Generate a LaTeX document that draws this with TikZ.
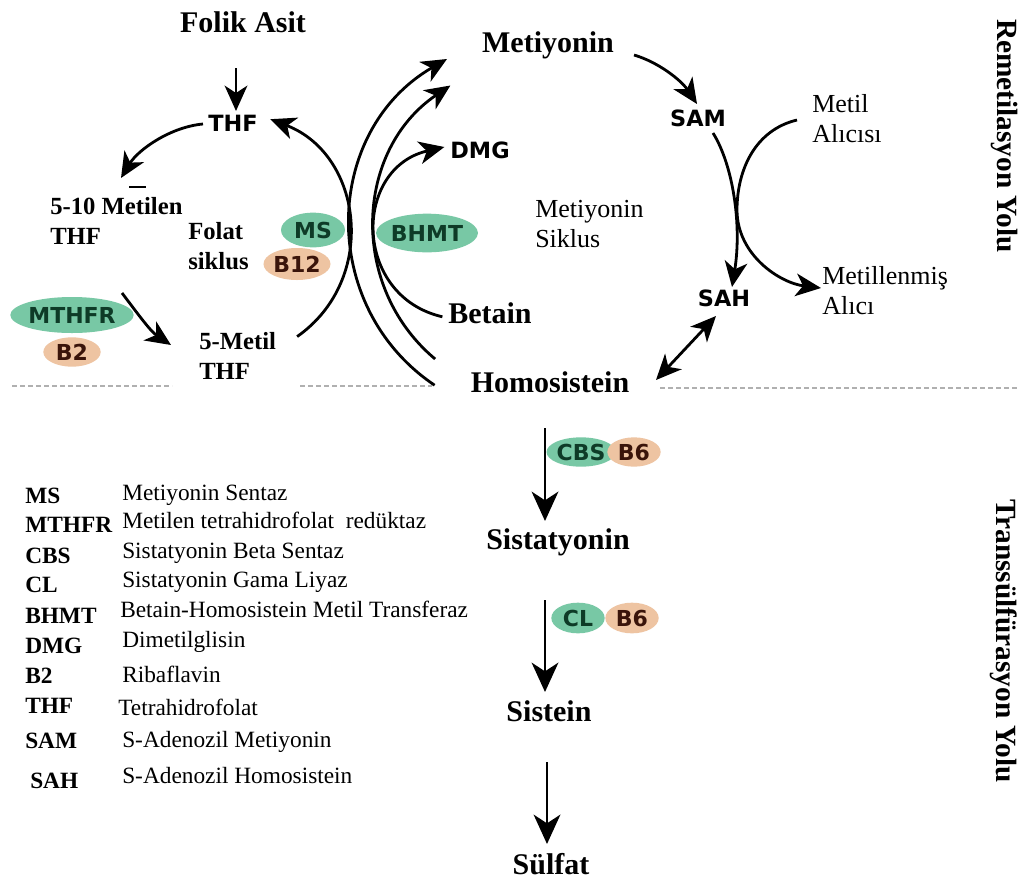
\documentclass[tikz,border=0pt]{standalone}
\usepackage{fontspec}
\setmainfont{Liberation Serif}
\newfontfamily\sansbold{DejaVu Sans}
\usetikzlibrary{arrows.meta,shapes.geometric}
\definecolor{enzg}{HTML}{78C8A5}
\definecolor{enzgt}{HTML}{0E3B27}
\definecolor{vito}{HTML}{EEC4A2}
\definecolor{vitot}{HTML}{3A140A}
\definecolor{dashc}{HTML}{B0B0B0}
\begin{document}
\begin{tikzpicture}[x=0.75pt,y=-0.75pt,
  big/.style={font=\bfseries\fontsize{22.5}{24}\selectfont, inner sep=1pt},
  mid/.style={font=\bfseries\fontsize{18.5}{23}\selectfont, align=left, anchor=west, inner sep=0pt},
  reg/.style={font=\fontsize{19.5}{22.5}\selectfont, align=left, anchor=west, inner sep=0pt},
  sans/.style={font=\sansbold\bfseries\fontsize{16.8}{18}\selectfont, inner sep=1pt},
  enz/.style={ellipse, fill=enzg, text=enzgt, font=\sansbold\bfseries\fontsize{16.5}{18}\selectfont, inner sep=0pt},
  vit/.style={ellipse, fill=vito, text=vitot, font=\sansbold\bfseries\fontsize{16.5}{18}\selectfont, inner sep=0pt},
  abbr/.style={font=\bfseries\fontsize{17.5}{19}\selectfont, anchor=base west, inner sep=0pt},
  desc/.style={font=\fontsize{17.5}{19}\selectfont, anchor=base west, inner sep=0pt},
  side/.style={font=\bfseries\fontsize{22}{24}\selectfont, rotate=-90, inner sep=0pt},
  arr/.style={line width=2.1pt, -{Stealth[length=19pt,width=17pt,inset=5.5pt]}},
  sarr/.style={line width=2.1pt, -{Stealth[length=22pt,width=20pt,inset=6.5pt]}},
  darr/.style={line width=2.1pt, {Stealth[length=19pt,width=17pt,inset=5.5pt]}-{Stealth[length=19pt,width=17pt,inset=5.5pt]}},
  ln/.style={line width=2.1pt},
  sep/.style={dashc, line width=1.3pt, dash pattern=on 4pt off 2pt}
]
\fill[white] (0,0) rectangle (1023,882);
\useasboundingbox (0,0) rectangle (1023,882);

% separators
\draw[sep] (12,386) coordinate (s1a) -- (172,386) coordinate (s1b);
\draw[sep] (300,386) coordinate (s2a) -- (432,386) coordinate (s2b);
\draw[sep] (660,388) coordinate (s3a) -- (1018,388) coordinate (s3b);

% main labels
\node[big] (folik) at (243,22) {Folik Asit};
\node[big] (met) at (548,45) {Metiyonin};
\node[big] (betain) at (490,313) {Betain};
\node[big] (hcy) at (550,382) {Homosistein};
\node[big] (sist) at (558,542) {Sistatyonin};
\node[big] (cys) at (549,711) {Sistein};
\node[big] (sulf) at (551,864) {Sülfat};

\node[sans] (thf) at (233,123) {THF};
\node[sans] (sam) at (698,118) {SAM};
\node[sans] (dmg) at (480,150) {DMG};
\node[sans] (sah) at (724,298) {SAH};

\node[mid] (mthf) at (50,221) {5-10 Metilen\\THF};
\node[mid] (folat) at (188,246) {Folat\\siklus};
\node[mid] (mthf5) at (199,356) {5-Metil\\THF};
\node[reg] (metsik) at (535,224) {Metiyonin\\Siklus};
\node[reg] (alici) at (812,119) {Metil\\Alıcısı};
\node[reg] (metal) at (822,291) {Metillenmiş\\Alıcı};

\node[side] (remet) at (1004,136) {Remetilasyon Yolu};
\node[side] (trans) at (1004,641) {Transsülfürasyon Yolu};

% enzymes and vitamins
\node[vit, minimum width=46pt, minimum height=24pt] (b12) at (297,264) {B12};
\node[enz, minimum width=48pt, minimum height=26pt] (ms) at (313,230) {MS};
\node[enz, minimum width=71pt, minimum height=29pt] (bhmt) at (427,233) {BHMT};
\node[enz, minimum width=89pt, minimum height=27pt] (mthfr) at (72,315) {MTHFR};
\node[vit, minimum width=43pt, minimum height=22pt] (b2) at (72,352) {B2};
\node[enz, minimum width=47pt, minimum height=22pt] (cbs) at (581,452) {CBS};
\node[vit, minimum width=40pt, minimum height=22pt] (b6a) at (634,452) {B6};
\node[enz, minimum width=40pt, minimum height=23pt] (cl) at (578,618) {CL};
\node[vit, minimum width=40pt, minimum height=23pt] (b6b) at (632,618) {B6};

% connector end points
\coordinate (fa1) at (236,68);
\coordinate (fa2) at (236,111);
\coordinate (f5a) at (297.1,336.6);
\coordinate (f5b) at (270.4,119.2);
\coordinate (om1) at (434.6,385.2);
\coordinate (om2) at (447.0,59.0);
\coordinate (im1) at (435.1,359.0);
\coordinate (im2) at (450.4,85.5);
\coordinate (bd1) at (442.4,316.8);
\coordinate (bd2) at (444.4,147.0);
\coordinate (t1) at (203,124);
\coordinate (t2) at (121,178);
\coordinate (ms1) at (634,55);
\coordinate (ms2) at (697,104);
\coordinate (sh1) at (713,133);
\coordinate (sh2) at (732,287);
\coordinate (ma1) at (797,120);
\coordinate (ma2) at (821,288);
\coordinate (hs1) at (656,380);
\coordinate (hs2) at (716,316);
\coordinate (mt1) at (122,293);
\coordinate (mt2) at (171,345);
\coordinate (c1) at (545,428);
\coordinate (c2) at (545,521);
\coordinate (l1) at (545,600);
\coordinate (l2) at (545,692);
\coordinate (u1) at (547,762);
\coordinate (u2) at (547,844);

% connectors
\draw[arr] (fa1) -- (fa2);
\draw[arr] (f5a) .. controls (378.4,279.6) and (363.1,154.8) .. (f5b);
\draw[arr] (om1) .. controls (317.0,305.9) and (323.1,130.7) .. (om2);
\draw[arr] (im1) .. controls (348.0,285.9) and (355.1,149.8) .. (im2);
\draw[arr] (bd1) .. controls (352.5,296.0) and (352.5,168.0) .. (bd2);
\draw[arr] (t1) .. controls (170,127) and (138,150) .. (t2);
\draw[ln] (129,187) -- (146,187);
\draw[arr] (ms1) .. controls (658,62) and (681,80) .. (ms2);
\draw[arr] (sh1) .. controls (733,165) and (742,225) .. (sh2);
\draw[arr] (ma1) .. controls (755,130) and (737,170) .. (737,210) .. controls (737,255) and (780,283) .. (ma2);
\draw[darr] (hs1) -- (hs2);
\draw[arr] (mt1) .. controls (135,310) and (150,331) .. (mt2);
\draw[sarr] (c1) -- (c2);
\draw[sarr] (l1) -- (l2);
\draw[sarr] (u1) -- (u2);

% legend
\node[abbr] (a1) at (25,503) {MS};
\node[abbr] (a2) at (25,532) {MTHFR};
\node[abbr] (a3) at (25,563) {CBS};
\node[abbr] (a4) at (25,592) {CL};
\node[abbr] (a5) at (25,623) {BHMT};
\node[abbr] (a6) at (25,653) {DMG};
\node[abbr] (a7) at (25,683) {B2};
\node[abbr] (a8) at (25,713) {THF};
\node[abbr] (a9) at (25,748) {SAM};
\node[abbr] (a10) at (30,788) {SAH};
\node[desc] (d1) at (122,500) {Metiyonin Sentaz};
\node[desc] (d2) at (122,528) {Metilen tetrahidrofolat\ \ redüktaz};
\node[desc] (d3) at (122,558) {Sistatyonin Beta Sentaz};
\node[desc] (d4) at (122,587) {Sistatyonin Gama Liyaz};
\node[desc] (d5) at (120,617) {Betain-Homosistein Metil Transferaz};
\node[desc] (d6) at (122,647) {Dimetilglisin};
\node[desc] (d7) at (122,682) {Ribaflavin};
\node[desc] (d8) at (118,715) {Tetrahidrofolat};
\node[desc] (d9) at (122,747) {S-Adenozil Metiyonin};
\node[desc] (d10) at (122,783) {S-Adenozil Homosistein};
\end{tikzpicture}
\end{document}
